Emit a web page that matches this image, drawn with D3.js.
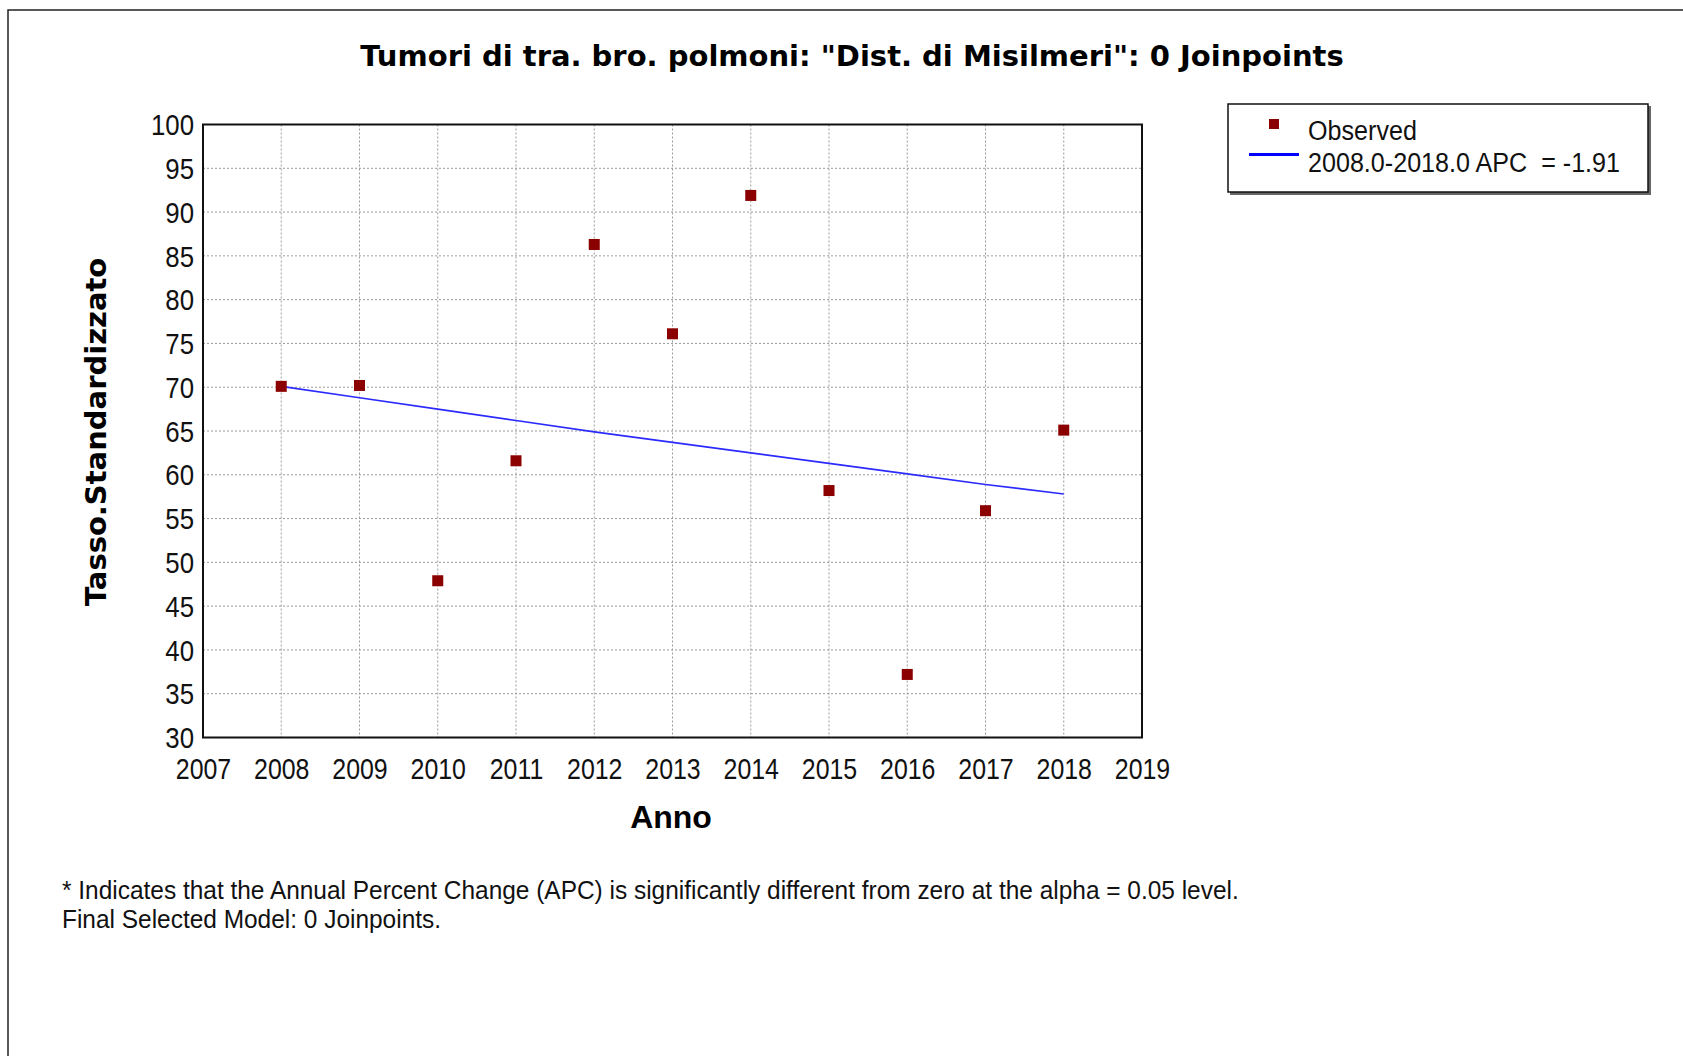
<!DOCTYPE html>
<html>
<head>
<meta charset="utf-8">
<script src="https://cdn.jsdelivr.net/npm/d3@7"></script>
<style>
  body { margin: 0; background: #fff; }
  svg { display: block; }
  .tick line { display: none; }
  .domain { display: none; }
</style>
</head>
<body>
<div id="chart"></div>
<script>
// values
var years = [2008, 2009, 2010, 2011, 2012, 2013, 2014, 2015, 2016, 2017, 2018];
var observed = [70.1, 70.2, 47.9, 61.6, 86.3, 76.1, 91.9, 58.2, 37.2, 55.9, 65.1];
var fitted = [70.1, 68.8, 67.5, 66.2, 64.9, 63.7, 62.5, 61.3, 60.1, 58.9, 57.8];
var xTicks = [2007, 2008, 2009, 2010, 2011, 2012, 2013, 2014, 2015, 2016, 2017, 2018, 2019];
var yTicks = [30, 35, 40, 45, 50, 55, 60, 65, 70, 75, 80, 85, 90, 95, 100];
var legendLabels = ["Observed", "2008.0-2018.0 APC  = -1.91"];
var titleText = 'Tumori di tra. bro. polmoni: "Dist. di Misilmeri": 0 Joinpoints';
var footnotes = ["* Indicates that the Annual Percent Change (APC) is significantly different from zero at the alpha = 0.05 level.",
                 "Final Selected Model: 0 Joinpoints."];

var W = 1683, H = 1056;
var margin = {top: 124.5, left: 203, right: 1142, bottom: 737.5};
var width = margin.right - margin.left;
var height = margin.bottom - margin.top;
var narrow = "'Liberation Sans', Arial, sans-serif";
var heavy = "'DejaVu Sans', Verdana, sans-serif";

var svg = d3.select("#chart").append("svg")
    .attr("width", W)
    .attr("height", H);

// outer frame (top and left edges only visible)
svg.append("path")
    .attr("d", "M8," + H + "V10H" + W)
    .attr("fill", "none")
    .attr("stroke", "#222")
    .attr("stroke-width", 1.5);

// squeeze text horizontally like the narrow GDI font
function squeeze(sel, k) {
    sel.each(function() {
        var len = this.getComputedTextLength();
        d3.select(this).attr("textLength", len * k).attr("lengthAdjust", "spacingAndGlyphs");
    });
}

svg.append("text")
    .attr("x", 852)
    .attr("y", 66)
    .attr("text-anchor", "middle")
    .style("font-family", heavy)
    .style("font-weight", "bold")
    .style("font-size", "29px")
    .text(titleText);

var g = svg.append("g")
    .attr("transform", "translate(" + margin.left + "," + margin.top + ")");

var x = d3.scaleLinear().domain([2007, 2019]).range([0, width]);
var y = d3.scaleLinear().domain([30, 100]).range([height, 0]);

// grid
g.append("g").selectAll("line")
    .data(yTicks.filter(function(d) { return d > 30 && d < 100; }))
    .enter().append("line")
    .attr("x1", 0).attr("x2", width)
    .attr("y1", function(d) { return y(d); })
    .attr("y2", function(d) { return y(d); })
    .attr("stroke", "#9a9a9a")
    .attr("stroke-dasharray", "2,2");

g.append("g").selectAll("line")
    .data(xTicks.filter(function(d) { return d > 2007 && d < 2019; }))
    .enter().append("line")
    .attr("y1", 0).attr("y2", height)
    .attr("x1", function(d) { return x(d); })
    .attr("x2", function(d) { return x(d); })
    .attr("stroke", "#9a9a9a")
    .attr("stroke-dasharray", "2,2");

// axes
var yAxis = g.append("g")
    .call(d3.axisLeft(y).tickValues(yTicks).tickFormat(d3.format("d")).tickSize(0).tickPadding(9));
yAxis.selectAll("text")
    .style("font-family", narrow)
    .style("font-size", "30px")
    .attr("fill", "#111")
    .attr("dy", "0.34em");
squeeze(yAxis.selectAll("text"), 0.86);

var xAxis = g.append("g")
    .attr("transform", "translate(0," + height + ")")
    .call(d3.axisBottom(x).tickValues(xTicks).tickFormat(d3.format("d")).tickSize(0).tickPadding(20));
xAxis.selectAll("text")
    .style("font-family", narrow)
    .style("font-size", "30px")
    .attr("fill", "#111");
squeeze(xAxis.selectAll("text"), 0.83);

// plot frame
g.append("rect")
    .attr("x", 0).attr("y", 0)
    .attr("width", width).attr("height", height)
    .attr("fill", "none")
    .attr("stroke", "#111")
    .attr("stroke-width", 2);

// fitted line
var line = d3.line()
    .x(function(d, i) { return x(years[i]); })
    .y(function(d) { return y(d); });

g.append("path")
    .datum(fitted)
    .attr("d", line)
    .attr("fill", "none")
    .attr("stroke", "#2b2bff")
    .attr("stroke-width", 1.6);

// observed points
g.selectAll("rect.pt")
    .data(observed)
    .enter().append("rect")
    .attr("class", "pt")
    .attr("x", function(d, i) { return x(years[i]) - 5.5; })
    .attr("y", function(d) { return y(d) - 5.5; })
    .attr("width", 11).attr("height", 11)
    .attr("fill", "#8b0000");

// axis titles
svg.append("text")
    .attr("transform", "translate(106,432) rotate(-90)")
    .attr("text-anchor", "middle")
    .style("font-family", heavy)
    .style("font-weight", "bold")
    .style("font-size", "29px")
    .text("Tasso.Standardizzato");

svg.append("text")
    .attr("x", 671)
    .attr("y", 828)
    .attr("text-anchor", "middle")
    .style("font-family", narrow)
    .style("font-weight", "bold")
    .style("font-size", "32px")
    .text("Anno");

// legend
var lg = svg.append("g").attr("transform", "translate(1228,104)");
lg.append("rect")
    .attr("x", 2).attr("y", 2).attr("width", 421).attr("height", 89)
    .attr("fill", "#666");
lg.append("rect")
    .attr("width", 420).attr("height", 88)
    .attr("fill", "#fff")
    .attr("stroke", "#111")
    .attr("stroke-width", 1.5);
lg.append("rect")
    .attr("x", 41).attr("y", 15).attr("width", 10).attr("height", 10)
    .attr("fill", "#8b0000");
lg.append("line")
    .attr("x1", 21).attr("x2", 71)
    .attr("y1", 50.5).attr("y2", 50.5)
    .attr("stroke", "#0000ff")
    .attr("stroke-width", 3);
var lt = lg.selectAll("text.lab")
    .data(legendLabels)
    .enter().append("text")
    .attr("class", "lab")
    .attr("x", 80)
    .attr("y", function(d, i) { return 36 + i * 32; })
    .style("font-family", narrow)
    .style("font-size", "27px")
    .style("white-space", "pre")
    .attr("fill", "#111")
    .text(function(d) { return d; });
squeeze(lt, 0.93);

// footnotes
var ft = svg.selectAll("text.foot")
    .data(footnotes)
    .enter().append("text")
    .attr("class", "foot")
    .attr("x", 62)
    .attr("y", function(d, i) { return 899 + i * 29; })
    .style("font-family", narrow)
    .style("font-size", "26px")
    .attr("fill", "#111")
    .text(function(d) { return d; });
squeeze(ft, 0.94);
</script>
</body>
</html>
